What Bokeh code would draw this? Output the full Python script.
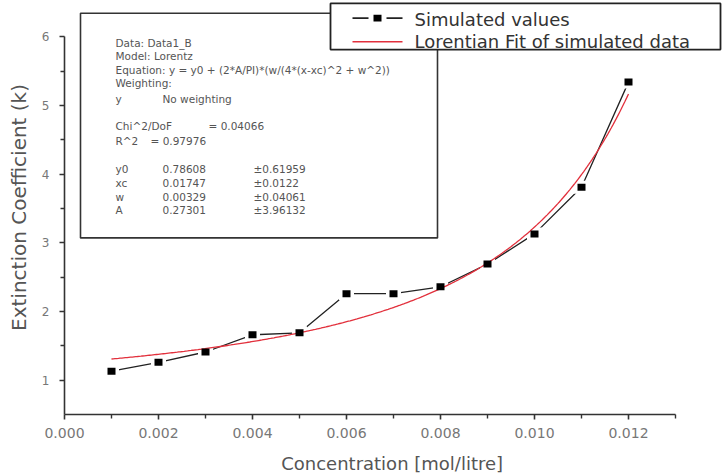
import numpy as np
from bokeh.plotting import figure
from bokeh.models import (Range1d, FixedTicker, NumeralTickFormatter, BoxAnnotation,
                          Label, ColumnDataSource)
from bokeh.embed import file_html
from bokeh.resources import INLINE

# ---- data -------------------------------------------------------------
concentration = [0.001, 0.002, 0.003, 0.004, 0.005, 0.006,
                 0.007, 0.008, 0.009, 0.010, 0.011, 0.012]
extinction = [1.13, 1.26, 1.41, 1.66, 1.69, 2.26,
              2.26, 2.36, 2.69, 3.13, 3.81, 5.34]

# Lorentz fit parameters (value, standard error)
fit_y0, fit_y0_err = 0.78608, 0.61959
fit_xc, fit_xc_err = 0.01747, 0.0122
fit_w, fit_w_err = 0.00329, 0.04061
fit_A, fit_A_err = 0.27301, 3.96132
fit_chi2 = 0.04066
fit_r2 = 0.97976

x_major_ticks = [0.000, 0.002, 0.004, 0.006, 0.008, 0.010, 0.012]
x_minor_ticks = [0.001, 0.003, 0.005, 0.007, 0.009, 0.011, 0.013]
y_major_ticks = [1, 2, 3, 4, 5, 6]
y_minor_ticks = [1.5, 2.5, 3.5, 4.5, 5.5]
x_axis_span = (0.0, 0.013)
y_axis_span = (0.5, 6.0)

# ---- geometry ---------------------------------------------------------
W, H = 725, 476
FL, FB = 64, 422            # canvas position of the axes origin
PX_PER_X = 611 / 0.013      # pixels per concentration unit
PX_PER_Y = 70.0             # pixels per extinction unit
X0, Y0 = x_axis_span[0], y_axis_span[0]
X1 = X0 + (W - FL) / PX_PER_X   # frame runs to the right edge
Y1 = Y0 + FB / PX_PER_Y         # frame runs to the top edge


def dx(px):
    return X0 + (px - FL) / PX_PER_X


def dy(py):
    return Y0 + (FB - py) / PX_PER_Y


FONT = "DejaVu Sans"

p = figure(width=W, height=H, x_range=Range1d(X0, X1), y_range=Range1d(Y0, Y1),
           output_backend="svg", toolbar_location=None,
           min_border_left=FL, min_border_right=0,
           min_border_top=0, min_border_bottom=H - FB)
p.outline_line_color = None
p.xgrid.visible = False
p.ygrid.visible = False
p.background_fill_color = "white"
p.border_fill_color = "white"

# ---- axes -------------------------------------------------------------
xa = p.xaxis[0]
xa.ticker = FixedTicker(ticks=x_major_ticks, minor_ticks=x_minor_ticks)
xa.formatter = NumeralTickFormatter(format="0.000")
xa.bounds = x_axis_span
ya = p.yaxis[0]
ya.ticker = FixedTicker(ticks=y_major_ticks, minor_ticks=y_minor_ticks)
ya.bounds = y_axis_span

for ax in (xa, ya):
    ax.axis_line_color = "#333333"
    ax.axis_line_width = 1.6
    ax.major_tick_line_color = "#333333"
    ax.major_tick_line_width = 1.6
    ax.minor_tick_line_color = "#333333"
    ax.minor_tick_line_width = 1.4
    ax.major_tick_in = 0
    ax.major_tick_out = 5
    ax.minor_tick_in = 0
    ax.minor_tick_out = 4
    ax.major_label_text_font = FONT
    ax.major_label_text_color = "#777777"
    ax.axis_label_text_font = FONT
    ax.axis_label_text_font_style = "normal"
    ax.axis_label_text_color = "#555555"

xa.major_label_text_font_size = "14px"
xa.major_label_standoff = 8
xa.axis_label = "Concentration  [mol/litre]"
xa.axis_label_text_font_size = "18px"
xa.axis_label_standoff = 12

ya.major_label_text_font_size = "12px"
ya.major_label_standoff = 10
ya.axis_label = "Extinction Coefficient (k)"
ya.axis_label_text_font_size = "20px"
ya.axis_label_standoff = 8

# ---- series -----------------------------------------------------------
src = ColumnDataSource(dict(x=concentration, y=extinction))

x_fit = np.linspace(concentration[0], concentration[-1], 300)
y_fit = fit_y0 + (2 * fit_A / np.pi) * (fit_w / (4 * (x_fit - fit_xc) ** 2 + fit_w ** 2))

p.line("x", "y", source=src, line_color="#222222", line_width=1.3)
# white halo so the connecting line stops short of each symbol
p.rect("x", "y", source=src, width=15, height=13, width_units="screen",
       height_units="screen", fill_color="white", line_color=None)
p.line(x_fit, y_fit, line_color="#e2303c", line_width=1.3)
p.rect("x", "y", source=src, width=8, height=7, width_units="screen",
       height_units="screen", fill_color="black", line_color=None)

# ---- fit report box ---------------------------------------------------
p.add_layout(BoxAnnotation(left=dx(80), right=dx(437), top=dy(13), bottom=dy(242),
                           fill_color="white", fill_alpha=1.0,
                           line_color="#333333", line_width=1.6, line_alpha=1.0))


def report(px, py, text):
    p.add_layout(Label(x=dx(px), y=dy(py), text=text, text_font=FONT,
                       text_font_size="10.5px", text_color="#555555",
                       text_baseline="middle", text_align="left"))


report(115, 43, "Data: Data1_B")
report(115, 57, "Model: Lorentz")
report(115, 71, "Equation: y = y0 + (2*A/PI)*(w/(4*(x-xc)^2 + w^2))")
report(115, 84, "Weighting:")
report(115, 100, "y")
report(162, 100, "No weighting")
report(115, 128, "Chi^2/DoF")
report(208, 128, f"= {fit_chi2:.5f}")
report(115, 143, "R^2")
report(150, 143, f"=  {fit_r2:.5f}")
rows = [("y0", fit_y0, fit_y0_err), ("xc", fit_xc, fit_xc_err),
        ("w", fit_w, fit_w_err), ("A", fit_A, fit_A_err)]
for (name, val, err), py in zip(rows, [172, 186, 200, 214]):
    report(115, py, name)
    report(162, py, f"{val:.5f}")
    report(253, py, f"\u00b1{err:g}")

# ---- legend -----------------------------------------------------------
p.add_layout(BoxAnnotation(left=dx(330), right=dx(720), top=dy(3), bottom=dy(50),
                           fill_color="white", fill_alpha=1.0,
                           line_color="#222222", line_width=1.8, line_alpha=1.0))


def hbar(x_a, x_b, py, color, thick=1.6):
    p.add_layout(BoxAnnotation(left=dx(x_a), right=dx(x_b), top=dy(py - thick / 2),
                               bottom=dy(py + thick / 2), fill_color=color,
                               fill_alpha=1.0, line_color=None))


hbar(352, 368, 18, "#222222")
hbar(386, 402, 18, "#222222")
p.add_layout(BoxAnnotation(left=dx(373), right=dx(381), top=dy(14.5), bottom=dy(21.5),
                           fill_color="black", fill_alpha=1.0, line_color=None))
hbar(352, 402, 42, "#e2303c")

for py, text in [(19, "Simulated values"), (42, "Lorentian Fit of simulated data")]:
    p.add_layout(Label(x=dx(414), y=dy(py), text=text, text_font=FONT,
                       text_font_size="18px", text_color="#333333",
                       text_baseline="middle", text_align="left"))

open("out.html", "w").write(file_html(p, INLINE))
